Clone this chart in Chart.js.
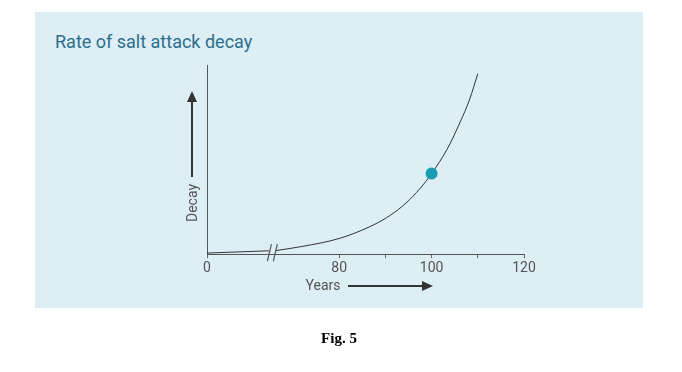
<!DOCTYPE html>
<html>
<head>
<meta charset="utf-8">
<script src="https://cdn.jsdelivr.net/npm/chart.js@4"></script>
<style>
	body { margin: 0; background: #fff; width: 682px; height: 372px; position: relative; overflow: hidden; }
	#panel { position: absolute; left: 35px; top: 12px; width: 608px; height: 296px; background: #ddeef4; }
	#title { position: absolute; left: 55px; top: 31px; font: 18px Roboto, sans-serif; color: #2c6f8d; white-space: nowrap; }
	#fig { position: absolute; left: 0; width: 678px; top: 330px; text-align: center; font: bold 15px "Liberation Serif", serif; color: #000; }
	#wrap { position: absolute; left: 0; top: 0; width: 682px; height: 372px; }
</style>
</head>
<body>
<div id="panel"></div>
<div id="title">Rate of salt attack decay</div>
<div id="wrap"><canvas id="decayChart" width="682" height="372"></canvas></div>
<div id="fig">Fig. 5</div>

<script>
// the x axis is broken: "0" is drawn at AXIS_ZERO, the rest is real years
const AXIS_ZERO = 51.4;

const earlyYears = [AXIS_ZERO, 64.8];
const earlyDecay = [0.6, 1.8];

const years = [66.3, 72, 80, 86.5, 90.2, 93.7, 96.7, 98.8, 100, 103.3, 106.1, 108.3, 110];
const decay = [1.9, 4.1, 8.3, 14.4, 19.2, 25.4, 32.5, 38.6, 42.6, 55.2, 69.4, 82.3, 95.4];

const markerYear = [100];
const markerDecay = [42.6];

const tickValues = [AXIS_ZERO, 80, 90, 100, 110, 120];
const tickLabels = ["0", "80", "", "100", "", "120"];

const toPoints = (xs, ys) => xs.map((x, i) => ({ x: x, y: ys[i] }));

function arrow(ctx, x1, y1, x2, y2) {
	const a = Math.atan2(y2 - y1, x2 - x1);
	ctx.beginPath();
	ctx.moveTo(x1, y1);
	ctx.lineTo(x2 - 8 * Math.cos(a), y2 - 8 * Math.sin(a));
	ctx.stroke();
	ctx.beginPath();
	ctx.moveTo(x2, y2);
	ctx.lineTo(x2 - 11 * Math.cos(a) + 5 * Math.sin(a), y2 - 11 * Math.sin(a) - 5 * Math.cos(a));
	ctx.lineTo(x2 - 11 * Math.cos(a) - 5 * Math.sin(a), y2 - 11 * Math.sin(a) + 5 * Math.cos(a));
	ctx.closePath();
	ctx.fill();
}

// axis names, arrows and the break marks
const extras = {
	id: "extras",
	afterDraw(chart) {
		const ctx = chart.ctx;
		const x = chart.scales.x;
		const bottom = chart.chartArea.bottom;
		ctx.save();

		ctx.strokeStyle = "#555";
		ctx.lineWidth = 1.2;
		[earlyYears[1], years[0]].forEach((v, i) => {
			const px = x.getPixelForValue(v) + (i === 0 ? 0.5 : -0.5);
			ctx.beginPath();
			ctx.moveTo(px - 2, bottom + 7);
			ctx.lineTo(px + 2, bottom - 10);
			ctx.stroke();
		});

		ctx.fillStyle = "#555";
		ctx.font = "14px Roboto, sans-serif";
		ctx.textAlign = "center";
		ctx.textBaseline = "middle";
		ctx.fillText("Years", 323, 286);

		ctx.save();
		ctx.translate(193, 203);
		ctx.rotate(-Math.PI / 2);
		ctx.fillText("Decay", 0, 0);
		ctx.restore();

		ctx.strokeStyle = "#333";
		ctx.fillStyle = "#333";
		ctx.lineWidth = 2;
		arrow(ctx, 348, 286, 433, 286);
		arrow(ctx, 192, 177, 192, 91);
		ctx.restore();
	},
};

new Chart(document.getElementById("decayChart"), {
	type: "scatter",
	data: {
		datasets: [
			{
				data: toPoints(markerYear, markerDecay),
				pointRadius: 6,
				pointBackgroundColor: "#1a9db3",
				pointBorderWidth: 0,
				order: 0,
			},
			{
				data: toPoints(earlyYears, earlyDecay),
				showLine: true,
				borderColor: "#333",
				borderWidth: 1,
				pointRadius: 0,
				order: 1,
			},
			{
				data: toPoints(years, decay),
				showLine: true,
				borderColor: "#333",
				borderWidth: 1,
				pointRadius: 0,
				cubicInterpolationMode: "monotone",
				order: 1,
			},
		],
	},
	options: {
		responsive: false,
		animation: false,
		layout: { padding: { left: 207, right: 158, top: 65, bottom: 93 } },
		plugins: { legend: { display: false }, tooltip: { enabled: false } },
		scales: {
			x: {
				type: "linear",
				min: AXIS_ZERO,
				max: 120,
				afterBuildTicks: (scale) => {
					scale.ticks = tickValues.map((v) => ({ value: v }));
				},
				ticks: {
					autoSkip: false,
					maxRotation: 0,
					padding: 2,
					color: "#555",
					font: { family: "Roboto", size: 14 },
					callback: (v) => tickLabels[tickValues.indexOf(v)],
				},
				grid: { drawOnChartArea: false, tickLength: 4, color: "#666" },
				border: { color: "#555", width: 1 },
			},
			y: {
				min: 0,
				max: 100,
				ticks: { display: false },
				grid: { display: false, drawTicks: false },
				border: { color: "#555", width: 1 },
			},
		},
	},
	plugins: [extras],
});
</script>
</body>
</html>
